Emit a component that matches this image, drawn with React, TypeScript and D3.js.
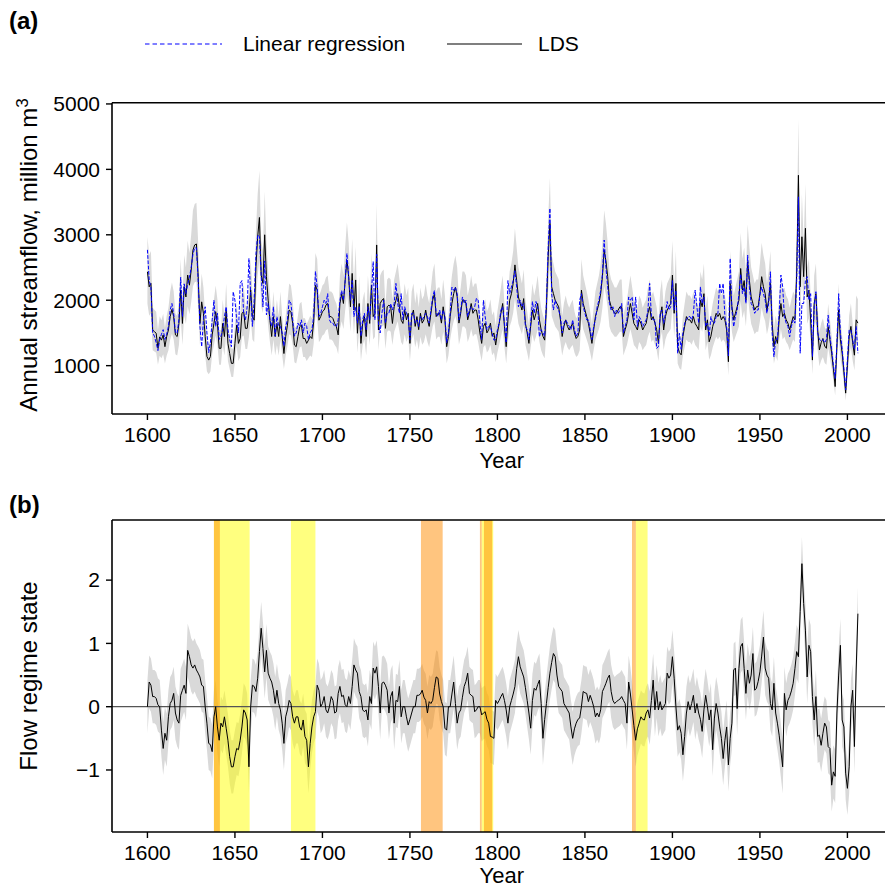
import React from "react";
import * as d3 from "d3";

const START_YEAR = 1600;
const xTicks = [1600, 1650, 1700, 1750, 1800, 1850, 1900, 1950, 2000];
const flowTicks = [1000, 2000, 3000, 4000, 5000];
const stateTicks = [-1, 0, 1, 2];

// LDS reconstructed annual streamflow (million m3), 1600-2006
const ldsFlow = [
  2435, 2205, 2257, 1545, 1520, 1495, 1265, 1440, 1390, 1470,
  1290, 1445, 1545, 1750, 1860, 1750, 1470, 1445, 1645, 2155,
  1645, 2205, 2050, 2385, 2230, 2460, 2765, 2845, 2860, 2360,
  1645, 1975, 1800, 1445, 1140, 1085, 1140, 1470, 1645, 1825,
  1645, 1265, 1265, 1645, 1445, 1850, 1340, 1185, 1035, 1035,
  1340, 1620, 1340, 1415, 1800, 1825, 1570, 1570, 1800, 2155,
  1750, 1695, 2510, 2970, 3265, 2385, 2257, 3000, 2360, 2000,
  1695, 1445, 1750, 1445, 1645, 1445, 1750, 1445, 1185, 1445,
  1620, 1850, 1825, 1645, 1315, 1290, 1445, 1595, 1620, 1415,
  1415, 1340, 1390, 1445, 1415, 1670, 2230, 2155, 1695, 1750,
  1825, 1850, 1925, 1950, 1750, 1750, 1720, 1645, 1595, 1470,
  1950, 2100, 1950, 2310, 2615, 2360, 1900, 2410, 1850, 2310,
  1495, 1950, 1340, 1645, 1750, 1445, 1950, 1645, 2230, 1750,
  1800, 2845, 1545, 1950, 2000, 2025, 1570, 1900, 1925, 1900,
  1645, 1900, 2000, 2100, 1900, 1695, 1645, 1850, 1700, 1800,
  1340, 1750, 1850, 1600, 1750, 1550, 1800, 1650, 1700, 1850,
  1700, 1600, 1800, 2000, 2100, 1750, 1800, 1800, 1650, 1900,
  1700, 1290, 1445, 1750, 1950, 2100, 2200, 2050, 1650, 1800,
  2000, 2000, 1950, 1700, 1800, 1950, 1800, 1850, 1850, 1700,
  1500, 1340, 1600, 1650, 1500, 1550, 1650, 1450, 1500, 1315,
  1500, 1645, 1800, 1950, 1600, 1290, 1700, 2000, 2100, 2257,
  2540, 2300, 2050, 1950, 1850, 2025, 1645, 1500, 1340, 1600,
  1850, 1700, 1800, 1950, 1700, 1545, 1450, 1390, 1900, 2665,
  3175, 2205, 2100, 2000, 1950, 1900, 1700, 1445, 1600, 1700,
  1600, 1545, 1600, 1645, 1500, 1415, 1450, 1545, 2155, 1950,
  1850, 1750, 1645, 1500, 1340, 1550, 1750, 1850, 1950, 2100,
  2360, 2765, 2600, 2360, 2000, 1900, 1850, 1800, 1800, 1850,
  1900, 1900, 1445, 1550, 1645, 1800, 1950, 1800, 1645, 1600,
  1545, 1700, 1650, 1545, 1600, 1645, 1800, 1900, 1700, 1750,
  1650, 1550, 1340, 1750, 1900, 1545, 1750, 1850, 1900, 1950,
  2385, 1800, 2257, 1290, 1200, 1165, 1445, 1600, 1750, 1700,
  1700, 1650, 1750, 1645, 1600, 1545, 2000, 1900, 2100, 1545,
  1700, 1365, 1450, 1595, 1700, 1800, 1750, 1800, 1700, 1750,
  1700, 1545, 1060, 2257, 1900, 1700, 1800, 1900, 2000, 2485,
  2155, 2300, 2000, 2590, 2300, 2050, 1950, 1850, 1900, 1900,
  2100, 2360, 2205, 2100, 1850, 2000, 2257, 1645, 1290, 1445,
  1340, 1700, 1950, 1750, 1800, 1700, 1650, 1545, 1650, 1750,
  1700, 2400, 3910, 2205, 2970, 2360, 3100, 2050, 2155, 1700,
  1085, 1950, 2100, 1545, 1240, 1350, 1415, 1300, 1265, 1595,
  1400, 1190, 950, 680, 1300, 1850, 1400, 1190, 900, 580,
  1000, 1445, 1600, 1350, 1160, 1700, 1650,
];

// Linear regression reconstruction (million m3), 1600-2006
const linRegFlow = [
  2770, 2300, 2200, 1500, 1450, 1350, 1230, 1400, 1480, 1550,
  1400, 1480, 1600, 1850, 1950, 1800, 1500, 1500, 1700, 2350,
  1750, 2250, 2100, 2250, 2350, 2500, 2700, 2800, 2800, 2300,
  1600, 1290, 1700, 1900, 1500, 1200, 1350, 1700, 2000, 1600,
  1800, 1400, 1450, 1550, 1750, 1900, 1550, 1400, 1290, 2130,
  2000, 1700, 1500, 2257, 2300, 1800, 1700, 1900, 2640, 2100,
  1600, 2000, 2700, 3000, 2970, 2400, 1900, 2600, 1775, 1950,
  1700, 1600, 1900, 1450, 1750, 1600, 1600, 1500, 1300, 1600,
  1700, 2000, 1950, 1700, 1450, 1500, 1650, 1600, 1700, 1500,
  1650, 1600, 1400, 1500, 1550, 1750, 2440, 2200, 1750, 1800,
  1900, 2000, 1950, 2100, 1700, 1650, 1650, 1600, 1600, 1700,
  2000, 2150, 2000, 2300, 2715, 2350, 2000, 2300, 1750, 1900,
  1650, 1900, 1450, 1700, 1800, 1550, 1900, 1700, 2100, 2590,
  1700, 2700, 1650, 1500, 1800, 2000, 1650, 1800, 1800, 1950,
  1850, 1950, 2257, 1950, 1800, 2100, 1700, 1900, 1800, 1750,
  1400, 1800, 1800, 1650, 1700, 1600, 1750, 1700, 1750, 1800,
  1750, 1650, 1850, 2050, 2150, 1800, 1750, 1850, 1700, 1850,
  1750, 1350, 1500, 1800, 2200, 2150, 2200, 2100, 1700, 1850,
  2050, 1950, 2000, 1750, 1850, 1900, 1850, 1900, 2030, 2000,
  1650, 1400, 2000, 1750, 1550, 1600, 1600, 1500, 1390, 1400,
  1550, 1650, 1850, 1900, 1650, 1350, 2300, 2100, 2200, 2300,
  2450, 2200, 1900, 2000, 1900, 1950, 1600, 1550, 1400, 1650,
  1980, 1800, 1980, 1900, 1440, 1550, 1500, 1450, 1950, 2800,
  3405, 2100, 1850, 2000, 1900, 1850, 1750, 1500, 1650, 1700,
  1650, 1600, 1550, 1700, 1550, 1450, 1500, 2000, 2100, 1900,
  1800, 1700, 1700, 1550, 1400, 1600, 1700, 1900, 2000, 2150,
  2400, 2920, 2500, 2200, 1950, 1850, 1900, 1750, 1850, 1800,
  1850, 1950, 1500, 1600, 1700, 2050, 2000, 2050, 1700, 2050,
  1600, 1750, 1700, 1600, 1650, 1700, 1850, 2257, 1750, 1700,
  1700, 1265, 1290, 1800, 1850, 1645, 1800, 1980, 1850, 1900,
  2300, 1850, 2150, 1190, 1495, 1250, 1500, 1650, 1700, 1750,
  1750, 1700, 1800, 2155, 1900, 1650, 2205, 1950, 2050, 1600,
  1650, 1450, 1750, 1650, 1650, 1750, 1800, 2257, 2100, 2257,
  1750, 1600, 1150, 2640, 1850, 1595, 1750, 1850, 2100, 2400,
  2100, 2200, 1950, 2690, 2200, 1950, 1900, 1800, 1850, 1850,
  2080, 2200, 2100, 2000, 1800, 1950, 2435, 1500, 1135, 1400,
  1400, 1800, 2385, 2205, 1750, 1650, 1600, 1440, 1600, 1700,
  1650, 2300, 3580, 1190, 1950, 1950, 2300, 2360, 2000, 2100,
  1140, 1900, 2130, 1500, 1400, 1380, 1400, 1350, 1400, 1770,
  1450, 1250, 1000, 805, 1350, 2100, 1500, 1250, 950, 630,
  1100, 1545, 1545, 1400, 1250, 1600, 1190,
];

// Flow regime state, 1600-2006
const flowState = [
  0.0, 0.39, 0.34, 0.16, 0.16, 0.13, 0.03, 0.0, -0.37, -0.66,
  -0.42, -0.53, -0.16, 0.05, 0.1, 0.21, -0.1, -0.21, -0.26, 0.18,
  0.26, 0.34, 0.21, 0.89, 0.79, 0.66, 0.61, 0.66, 0.58, 0.53,
  0.47, 0.34, 0.32, 0.0, -0.26, -0.58, -0.6, -0.71, -0.16, 0.0,
  -0.32, -0.53, -0.26, -0.32, -0.16, -0.34, -0.53, -0.79, -0.95, -0.95,
  -0.79, -0.66, -0.68, -0.53, -0.32, -0.05, -0.1, -0.21, -0.95, 0.0,
  0.34, 0.32, 0.24, 0.45, 0.87, 1.24, 0.92, 0.55, 0.89, 0.53,
  0.45, 0.39, 0.26, 0.05, 0.26, 0.05, -0.05, -0.26, -0.58, -0.16,
  -0.05, 0.1, 0.05, -0.16, -0.26, -0.16, -0.16, -0.32, -0.37, -0.21,
  -0.47, -0.53, -0.95, -0.58, -0.32, -0.16, -0.08, 0.34, 0.26, 0.0,
  0.05, 0.16, -0.05, -0.1, 0.0, 0.16, 0.1, -0.1, -0.08, 0.21,
  0.32, 0.16, 0.18, 0.03, 0.0, 0.16, 0.05, 0.32, 0.66, 0.58,
  0.53, 0.24, 0.16, -0.05, -0.08, -0.05, -0.21, 0.16, 0.05, 0.61,
  0.53, 0.63, 0.32, -0.1, 0.37, 0.39, 0.34, 0.26, -0.1, 0.16,
  0.24, -0.26, 0.1, 0.08, 0.32, -0.16, 0.0, 0.0, -0.16, -0.29,
  -0.2, -0.1, 0.0, 0.0, 0.18, 0.18, 0.2, 0.26, 0.15, 0.1,
  -0.1, 0.08, 0.05, 0.1, 0.3, 0.47, 0.45, 0.2, 0.08, 0.0,
  -0.34, -0.37, 0.0, 0.0, 0.2, 0.39, 0.05, -0.26, -0.1, -0.05,
  0.15, 0.32, 0.4, 0.53, 0.21, 0.18, 0.16, -0.08, -0.05, 0.0,
  0.0, -0.13, -0.1, -0.08, -0.2, -0.26, -0.47, -0.48, -0.5, 0.1,
  0.05, 0.1, 0.16, 0.21, 0.1, -0.05, -0.26, 0.0, 0.1, 0.2,
  0.32, 0.6, 0.79, 0.63, 0.55, 0.47, 0.3, 0.1, -0.1, -0.34,
  0.1, 0.29, 0.26, 0.35, 0.42, 0.05, -0.5, -0.2, 0.05, 0.3,
  0.53, 0.7, 0.84, 0.79, 0.5, 0.32, 0.28, 0.24, 0.05, 0.0,
  -0.05, -0.1, -0.32, -0.5, -0.35, -0.26, -0.2, -0.18, 0.0, 0.24,
  0.22, 0.21, 0.08, 0.18, 0.1, 0.0, -0.16, -0.1, -0.16, -0.05,
  0.24, 0.3, 0.37, 0.45, 0.5, 0.24, 0.1, 0.05, 0.08, 0.1,
  0.12, 0.16, 0.1, 0.05, -0.26, 0.39, 0.2, -0.05, -0.3, -0.53,
  -0.35, -0.26, -0.16, -0.2, -0.21, -0.1, -0.05, -0.18, 0.1, 0.42,
  -0.05, 0.24, -0.05, 0.08, -0.05, 0.0, 0.05, 0.53, 0.45, 0.5,
  0.79, 0.45, 0.0, -0.37, -0.3, -0.42, -0.76, -0.47, -0.1, 0.08,
  -0.05, 0.05, 0.18, -0.1, 0.05, -0.1, -0.2, -0.39, -0.05, 0.18,
  0.0, -0.21, -0.05, -0.68, -0.18, 0.05, -0.1, -0.32, -0.5, -0.82,
  -0.53, -0.32, -0.92, -0.5, -0.26, 0.58, 0.61, -0.03, 0.6, 0.95,
  1.0, 0.6, 0.21, 0.58, 0.37, 0.5, 0.84, 0.26, 0.29, 0.4,
  0.55, 0.8, 1.1, 0.61, 0.5, 0.45, 0.05, -0.05, 0.37, -0.1,
  -0.26, -0.45, -0.7, -0.95, 0.21, -0.05, 0.1, 0.16, 0.25, 0.37,
  0.6, 0.87, 0.79, 1.5, 2.26, 1.63, 1.21, 0.47, 0.97, 0.87,
  0.16, -0.21, 0.16, -0.47, -0.45, -0.61, -0.42, -0.26, -0.32, -0.63,
  -0.66, -1.24, -1.03, -1.1, -0.1, 0.5, 0.97, -0.21, -0.32, -1.05,
  -1.29, -0.95, 0.0, 0.26, -0.63, 0.58, 1.47,
];

// Highlighted periods (years) in panel (b)
const yellowPeriods = [
  [1638, 1658.4],
  [1682, 1696],
  [1791, 1797.6],
  [1879.1, 1885.8],
];
const orangePeriods = [
  [1638, 1641.4],
  [1756.3, 1768.7],
  [1790, 1791],
  [1792.3, 1797],
  [1876.9, 1879.1],
];

// uncertainty envelopes
const FLOW_BAND_LO = 0.8;
const FLOW_BAND_HI = 1.22;
const STATE_BAND = 0.42;

const FONT = "'Liberation Sans', Arial, Helvetica, sans-serif";

export default function App() {
  const W = 885;
  const H = 889;
  const left = 112;
  const rightEdge = 891.6;

  const x = d3.scaleLinear().domain([1579.75, 2025.25]).range([left, rightEdge]);
  const yA = d3.scaleLinear().domain([261, 5019]).range([414, 102.7]);
  const yB = d3.scaleLinear().domain([-1.98, 2.95]).range([832, 520]);

  const yr = (i: number) => START_YEAR + i;

  const ldsData = ldsFlow.map((v, i) => ({ t: yr(i), v }));
  const lrData = linRegFlow.map((v, i) => ({ t: yr(i), v }));
  const stData = flowState.map((v, i) => ({ t: yr(i), v }));

  const lineA = d3
    .line<{ t: number; v: number }>()
    .x((d) => x(d.t))
    .y((d) => yA(d.v));
  const areaA = d3
    .area<{ t: number; v: number }>()
    .x((d) => x(d.t))
    .y0((d) => yA(d.v * FLOW_BAND_LO))
    .y1((d) => yA(d.v * FLOW_BAND_HI));
  const lineB = d3
    .line<{ t: number; v: number }>()
    .x((d) => x(d.t))
    .y((d) => yB(d.v));
  const areaB = d3
    .area<{ t: number; v: number }>()
    .x((d) => x(d.t))
    .y0((d) => yB(d.v - STATE_BAND))
    .y1((d) => yB(d.v + STATE_BAND));

  const [aTop, aBot] = [yA.range()[1], yA.range()[0]];
  const [bTop, bBot] = [yB.range()[1], yB.range()[0]];

  const spine = { stroke: "#000", strokeWidth: 1.6, fill: "none" };
  const tickFs = 21;

  const xAxis = (yBase: number, key: string, titleDy: number) => (
    <g key={key}>
      {xTicks.map((t) => (
        <g key={t}>
          <line x1={x(t)} x2={x(t)} y1={yBase} y2={yBase + 6} stroke="#000" strokeWidth={1.4} />
          <text x={x(t)} y={yBase + 28} textAnchor="middle" fontSize={tickFs} fontFamily={FONT}>
            {t}
          </text>
        </g>
      ))}
      <text x={(left + rightEdge) / 2} y={yBase + titleDy} textAnchor="middle" fontSize={22} fontFamily={FONT}>
        Year
      </text>
    </g>
  );

  return (
    <svg
      width={W}
      height={H}
      style={{ position: "absolute", left: 0, top: 0, background: "#fff" }}
      fontFamily={FONT}
    >
      <rect x={0} y={0} width={W} height={H} fill="#fff" />

      {/* Panel labels */}
      <text x={9} y={29} fontSize={24} fontWeight="bold">(a)</text>
      <text x={9} y={513} fontSize={24} fontWeight="bold">(b)</text>

      {/* Legend */}
      <line x1={145} x2={222} y1={44} y2={44} stroke="#0000ff" strokeWidth={1.2} strokeDasharray="4.5,3" />
      <text x={243} y={44} dy="0.35em" fontSize={21}>Linear regression</text>
      <line x1={447} x2={522} y1={44} y2={44} stroke="#000" strokeWidth={1.2} />
      <text x={538} y={44} dy="0.35em" fontSize={21}>LDS</text>

      {/* ===== Panel (a) ===== */}
      <path d={areaA(ldsData) || ""} fill="#d9d9d9" stroke="none" />
      <path d={lineA(ldsData) || ""} fill="none" stroke="#000" strokeWidth={1} strokeLinejoin="round" />
      <path d={lineA(lrData) || ""} fill="none" stroke="#0000ff" strokeWidth={1} strokeDasharray="3.7,1.6" />
      <line x1={left} x2={W} y1={aTop} y2={aTop} {...spine} />
      <line x1={left} x2={W} y1={aBot} y2={aBot} {...spine} />
      <line x1={left} x2={left} y1={aTop} y2={aBot} {...spine} />
      {flowTicks.map((t) => (
        <g key={t}>
          <line x1={left - 6} x2={left} y1={yA(t)} y2={yA(t)} stroke="#000" strokeWidth={1.4} />
          <text x={left - 12} y={yA(t)} dy="0.35em" textAnchor="end" fontSize={tickFs}>
            {t}
          </text>
        </g>
      ))}
      {xAxis(aBot, "xa", 54)}
      <text transform={`translate(37, 255) rotate(-90)`} textAnchor="middle" fontSize={24}>
        Annual streamflow, million m
        <tspan dy={-9} fontSize={17}>3</tspan>
      </text>

      {/* ===== Panel (b) ===== */}
      <path d={areaB(stData) || ""} fill="#d9d9d9" stroke="none" />
      {yellowPeriods.map(([s, e], i) => (
        <rect key={"y" + i} x={x(s)} width={x(e) - x(s)} y={bTop} height={bBot - bTop} fill="#ffff00" fillOpacity={0.5} />
      ))}
      {orangePeriods.map(([s, e], i) => (
        <rect key={"o" + i} x={x(s)} width={x(e) - x(s)} y={bTop} height={bBot - bTop} fill="#ff8c00" fillOpacity={0.5} />
      ))}
      <line x1={left} x2={W} y1={yB(0)} y2={yB(0)} stroke="#555" strokeWidth={1.2} />
      <path d={lineB(stData) || ""} fill="none" stroke="#000" strokeWidth={1} strokeLinejoin="round" />
      <line x1={left} x2={W} y1={bTop} y2={bTop} {...spine} />
      <line x1={left} x2={W} y1={bBot} y2={bBot} {...spine} />
      <line x1={left} x2={left} y1={bTop} y2={bBot} {...spine} />
      {stateTicks.map((t) => (
        <g key={t}>
          <line x1={left - 6} x2={left} y1={yB(t)} y2={yB(t)} stroke="#000" strokeWidth={1.4} />
          <text x={left - 12} y={yB(t)} dy="0.35em" textAnchor="end" fontSize={tickFs}>
            {t === -1 ? "\u22121" : t}
          </text>
        </g>
      ))}
      {xAxis(bBot, "xb", 51)}
      <text transform={`translate(37, ${(bTop + bBot) / 2}) rotate(-90)`} textAnchor="middle" fontSize={24}>
        Flow regime state
      </text>
    </svg>
  );
}
